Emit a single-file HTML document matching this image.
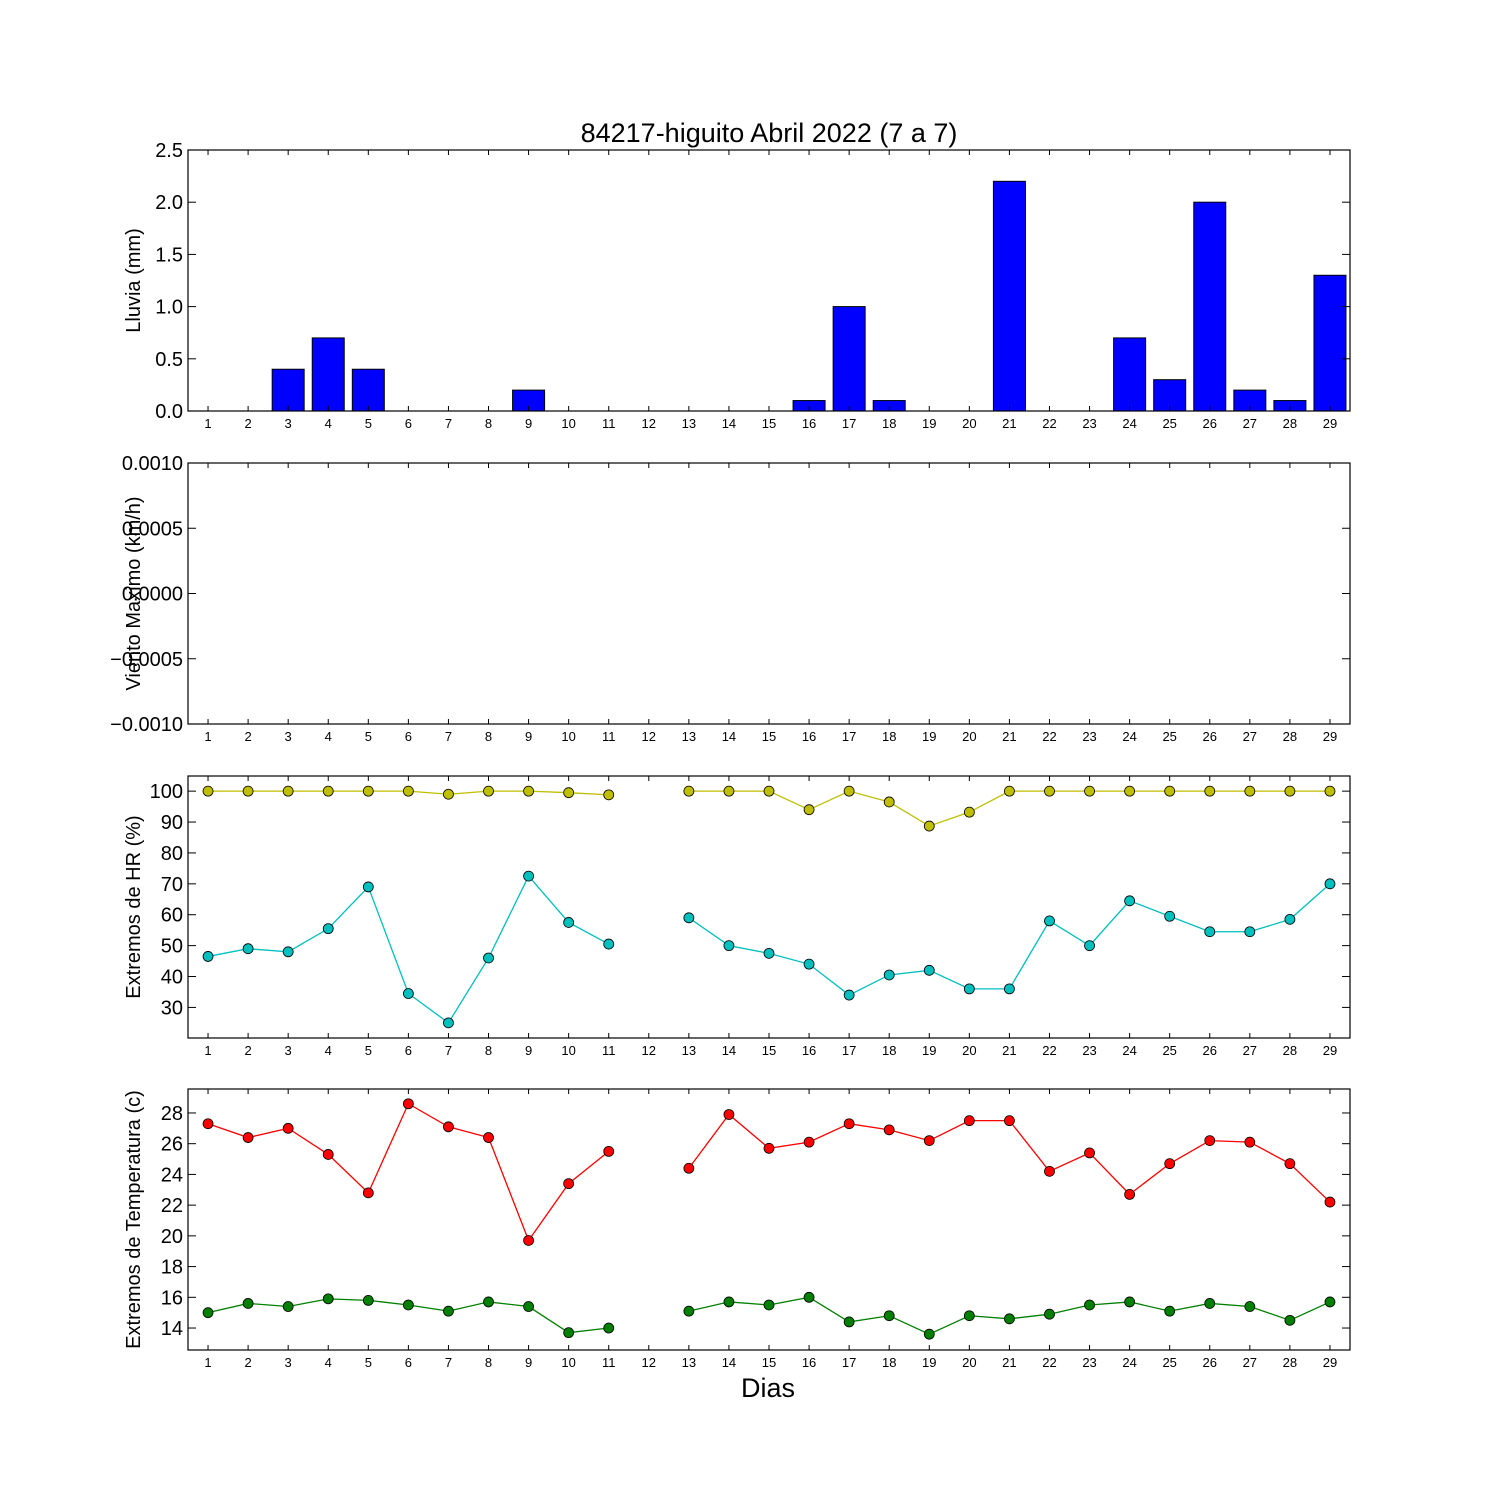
<!DOCTYPE html>
<html><head><meta charset="utf-8"><style>
body{margin:0;background:#fff}
svg text{font-family:"Liberation Sans","DejaVu Sans",sans-serif;fill:#000}
</style></head><body>
<svg id="c" width="1500" height="1500" xmlns="http://www.w3.org/2000/svg"></svg>
<script>
const days=[1,2,3,4,5,6,7,8,9,10,11,12,13,14,15,16,17,18,19,20,21,22,23,24,25,26,27,28,29];
const rain=[0,0,0.4,0.7,0.4,0,0,0,0.2,0,0,null,0,0,0,0.1,1.0,0.1,0,0,2.2,0,0,0.7,0.3,2.0,0.2,0.1,1.3];
const hrMax=[100,100,100,100,100,100,99,100,100,99.5,98.8,null,100,100,100,94,100,96.5,88.7,93.2,100,100,100,100,100,100,100,100,100];
const hrMin=[46.5,49,48,55.5,69,34.5,25,46,72.5,57.5,50.5,null,59,50,47.5,44,34,40.5,42,36,36,58,50,64.5,59.5,54.5,54.5,58.5,70];
const tMax=[27.3,26.4,27,25.3,22.8,28.6,27.1,26.4,19.7,23.4,25.5,null,24.4,27.9,25.7,26.1,27.3,26.9,26.2,27.5,27.5,24.2,25.4,22.7,24.7,26.2,26.1,24.7,22.2];
const tMin=[15,15.6,15.4,15.9,15.8,15.5,15.1,15.7,15.4,13.7,14,null,15.1,15.7,15.5,16,14.4,14.8,13.6,14.8,14.6,14.9,15.5,15.7,15.1,15.6,15.4,14.5,15.7];
const rainTicks=["0.0","0.5","1.0","1.5","2.0","2.5"];
const windTicks=["\u22120.0010","\u22120.0005","0.0000","0.0005","0.0010"];
const hrTicks=[30,40,50,60,70,80,90,100];
const tTicks=[14,16,18,20,22,24,26,28];

const svg=document.getElementById('c');
const NS='http://www.w3.org/2000/svg';
function el(tag,attrs,parent){const e=document.createElementNS(NS,tag);for(const k in attrs)e.setAttribute(k,attrs[k]);(parent||svg).appendChild(e);return e;}
const L=188,R=1350;
const x=d=>L+(d-0.5)/29*(R-L);
function panel(name,top,bot,ymin,ymax,ticks,tickVals,ylabel){
  const g=el('g',{});
  
  
  const y=v=>bot-(v-ymin)/(ymax-ymin)*(bot-top);
  return {g,y,top,bot,ticks,tickVals,ylabel};
}
function frame(p){
  const g=p.g;
  el('rect',{x:L,y:p.top,width:R-L,height:p.bot-p.top,fill:'none',stroke:'#000','stroke-width':1.2},g);
  days.forEach(d=>{
    el('line',{x1:x(d),x2:x(d),y1:p.bot,y2:p.bot-5,stroke:'#000'},g);
    el('line',{x1:x(d),x2:x(d),y1:p.top,y2:p.top+5,stroke:'#000'},g);
    const t=el('text',{x:x(d),y:p.bot+17,'font-size':13,'text-anchor':'middle'},g);t.textContent=d;
    
    
  });
  p.tickVals.forEach((v,i)=>{
    const yy=p.y(v);
    el('line',{x1:L,x2:L+8,y1:yy,y2:yy,stroke:'#000'},g);
    el('line',{x1:R,x2:R-8,y1:yy,y2:yy,stroke:'#000'},g);
    const t=el('text',{x:L-5,y:yy+7,'font-size':20,'text-anchor':'end'},g);t.textContent=p.ticks[i];
    
    
  });
  const cy=(p.top+p.bot)/2;
  const t=el('text',{x:0,y:0,'font-size':20,'text-anchor':'middle',transform:`translate(140,${cy}) rotate(-90)`},g);
  t.textContent=p.ylabel;
  
  
}
function series(p,vals,color,name){
  let seg=[];const segs=[];
  vals.forEach((v,i)=>{if(v==null){if(seg.length)segs.push(seg);seg=[];}else seg.push([x(days[i]),p.y(v)]);});
  if(seg.length)segs.push(seg);
  segs.forEach(s=>{
    const pl=el('polyline',{points:s.map(q=>q.join(',')).join(' '),fill:'none',stroke:color,'stroke-width':1.3},p.g);
    
    
  });
  vals.forEach((v,i)=>{if(v==null)return;
    const c=el('circle',{cx:x(days[i]),cy:p.y(v),r:5,fill:color,stroke:'#000','stroke-width':0.8},p.g);
    
    
  });
}
// Title
const ti=el('text',{x:769,y:142,'font-size':27,'text-anchor':'middle'});ti.textContent='84217-higuito Abril 2022  (7 a 7)';


// Rain
const p1=panel('rain-panel',150,411,0,2.5,rainTicks,[0,0.5,1,1.5,2,2.5],'Lluvia (mm)');
rain.forEach((v,i)=>{if(v==null)return;
  const b=el('rect',{x:x(days[i])-16,y:p1.y(v),width:32,height:p1.bot-p1.y(v),fill:'#0000ff',stroke:'#000','stroke-width':1},p1.g);
  
  
});
frame(p1);
// Wind
const p2=panel('wind-panel',463,724,-0.001,0.001,windTicks,[-0.001,-0.0005,0,0.0005,0.001],'Viento Maximo (km/h)');
frame(p2);
// HR
const p3=panel('humidity-panel',776,1038,20.1,104.9,hrTicks.map(String),hrTicks,'Extremos de HR (%)');
frame(p3);
series(p3,hrMax,'#bfbf00','hr-max');
series(p3,hrMin,'#00bfbf','hr-min');
// Temp
const p4=panel('temperature-panel',1089,1350,12.57,29.56,tTicks.map(String),tTicks,'Extremos de Temperatura (c)');
frame(p4);
series(p4,tMax,'#ff0000','temp-max');
series(p4,tMin,'#008000','temp-min');
const xl=el('text',{x:768,y:1397,'font-size':27,'text-anchor':'middle'});xl.textContent='Dias';


</script>
</body></html>
